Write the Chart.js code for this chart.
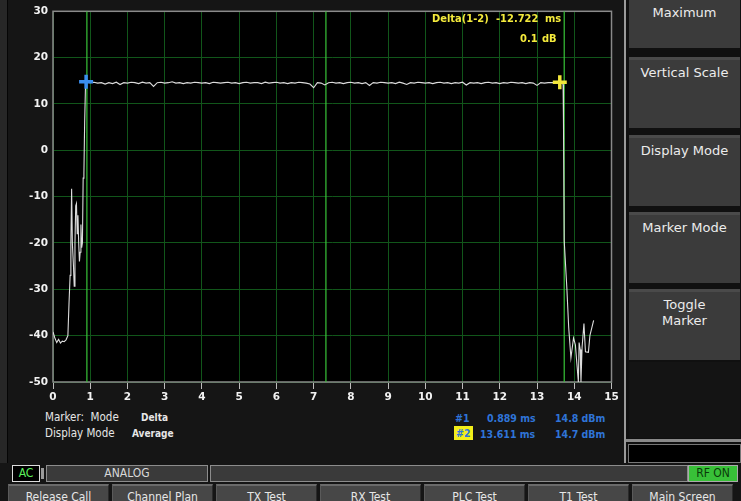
<!DOCTYPE html>
<html>
<head>
<meta charset="utf-8">
<script src="https://cdn.jsdelivr.net/npm/chart.js@4.4.1/dist/chart.umd.min.js"></script>
<style>
  html, body { margin: 0; padding: 0; background: #151515; width: 741px; height: 501px; overflow: hidden; }
  body { position: relative; font-family: 'DejaVu Sans', sans-serif; }
  .abs { position: absolute; white-space: nowrap; line-height: 1; }
  #leftStrip { left: 0; top: 0; width: 7px; height: 463px; background: #272727; border-right: 1px solid #050505; }
  #chartBox { left: 0; top: 0; width: 622px; height: 410px; }
  .cond { font-family: 'DejaVu Sans Condensed', 'DejaVu Sans', sans-serif; }
  .yel { color: #f4ea3c; font-weight: bold; font-size: 11px; }
  .lbl { color: #e6e6e6; font-size: 11.5px; }
  .lblb { color: #e6e6e6; font-size: 10px; font-weight: bold; }
  .blue { color: #2f74d8; font-weight: bold; font-size: 10.5px; }
  #panel { left: 624px; top: 0; width: 117px; height: 463px; background: #101010; border-left: 2px solid #9a9a9a; }
  .sbtn { position: absolute; left: 3px; width: 111px; background: #3b3b3b; border-top: 3px solid #4a4a4a;
          color: #ececec; font-size: 13px; text-align: center; box-sizing: border-box; }
  #emptyBox { position: absolute; left: 3px; top: 362px; width: 111px; height: 76px; background: #141414; }
  #panelLine { position: absolute; left: 0; top: 439px; width: 117px; height: 3px; background: #8a8a8a; }
  #blackBox { position: absolute; left: 2px; top: 444px; width: 113px; height: 19px; background: #000; border: 1px solid #777; box-sizing: border-box; }
  .sbox { position: absolute; top: 465px; height: 17px; background: #3a3a3a; border: 1px solid #8c8c8c; box-sizing: border-box;
          color: #d8d8d8; font-size: 12px; text-align: center; line-height: 15px; }
  .bbtn { position: absolute; top: 484px; width: 101px; height: 20px; background: #474747; border-top: 2px solid #6a6a6a;
          border-left: 1px solid #5a5a5a; border-right: 1px solid #2a2a2a; box-sizing: border-box;
          color: #e6e6e6; font-size: 12px; text-align: center; padding-top: 4px; }
</style>
</head>
<body>
<div id="leftStrip" class="abs"></div>
<div id="chartBox" class="abs"><canvas id="trace" width="622" height="410"></canvas></div>

<!-- delta readout -->
<span class="abs cond yel" style="left:432px; top:13px;">Delta(1-2)</span>
<span class="abs cond yel" style="left:496px; top:13px;">-12.722</span>
<span class="abs cond yel" style="left:545px; top:13px;">ms</span>
<span class="abs cond yel" style="left:520px; top:33px;">0.1</span>
<span class="abs cond yel" style="left:542px; top:33px;">dB</span>

<!-- marker info -->
<span class="abs cond lbl" style="left:45px; top:412px;">Marker:&nbsp; Mode</span>
<span class="abs cond lblb" style="left:141px; top:413px;">Delta</span>
<span class="abs cond lbl" style="left:45px; top:428px;">Display Mode</span>
<span class="abs cond lblb" style="left:132px; top:429px;">Average</span>

<span class="abs cond blue" style="left:455px; top:413px;">#1</span>
<span class="abs cond blue" style="left:487px; top:413px;">0.889 ms</span>
<span class="abs cond blue" style="left:555px; top:413px;">14.8 dBm</span>
<span class="abs cond blue" style="left:454px; top:426px; background:#f2ee1a; padding:2px 2px 1px 2px;">#2</span>
<span class="abs cond blue" style="left:480px; top:429px;">13.611 ms</span>
<span class="abs cond blue" style="left:555px; top:429px;">14.7 dBm</span>

<!-- right soft keys -->
<div id="panel" class="abs">
  <div class="sbtn" style="top:-3px; height:51px; padding-top:6px;">Maximum</div>
  <div class="sbtn" style="top:57px; height:71px; padding-top:6px;">Vertical Scale</div>
  <div class="sbtn" style="top:135px; height:71px; padding-top:6px;">Display Mode</div>
  <div class="sbtn" style="top:212px; height:71px; padding-top:6px;">Marker Mode</div>
  <div class="sbtn" style="top:289px; height:71px; padding-top:5px; line-height:16px;">Toggle<br>Marker</div>
  <div id="emptyBox"></div>
  <div id="panelLine"></div>
  <div id="blackBox"></div>
</div>

<!-- status bar -->
<div class="sbox cond" style="left:12px; width:28px; background:#000; border-color:#dcdcdc; color:#5cf05c;">AC</div>
<div class="abs" style="left:41px; top:468px; width:3px; height:11px; background:#9a9a9a;"></div>
<div class="sbox cond" style="left:46px; width:162px;">ANALOG</div>
<div class="sbox" style="left:210px; width:478px;"></div>
<div class="sbox cond" style="left:688px; width:50px; background:#38c038; color:#0a3a0a; border-color:#aaa;">RF ON</div>

<!-- bottom keys -->
<div class="bbtn cond" style="left:8px;">Release Call</div>
<div class="bbtn cond" style="left:112px;">Channel Plan</div>
<div class="bbtn cond" style="left:216px;">TX Test</div>
<div class="bbtn cond" style="left:320px;">RX Test</div>
<div class="bbtn cond" style="left:424px;">PLC Test</div>
<div class="bbtn cond" style="left:528px;">T1 Test</div>
<div class="bbtn cond" style="left:632px;">Main Screen</div>

<script>
// axis ticks
const xTicks = [0, 1, 2, 3, 4, 5, 6, 7, 8, 9, 10, 11, 12, 13, 14, 15];
const yTicks = [30, 20, 10, 0, -10, -20, -30, -40, -50];

// trace: rising edge (ms, dBm)
const riseX = [0.00, 0.05, 0.10, 0.15, 0.20, 0.25, 0.30, 0.35, 0.40, 0.43, 0.46, 0.48, 0.50, 0.52, 0.55, 0.57,
               0.59, 0.61, 0.63, 0.65, 0.67, 0.69, 0.71, 0.73, 0.75, 0.77, 0.79, 0.81, 0.83, 0.85, 0.87];
const riseY = [-39.2, -40.5, -41.5, -40.8, -41.6, -41.2, -41.3, -40.9, -40.0, -33, -27, -20, -8.3, -20, -25, -29.3,
               -20, -12, -11.5, -18, -14, -20, -24, -22, -16, -21, -20, -6, -5, 6, 13];

// trace: flat top
const flatX = [0.9, 1.0, 1.1, 1.2, 1.3, 1.4, 1.5, 1.6, 1.7, 1.8, 1.9,
               2.0, 2.1, 2.2, 2.3, 2.4, 2.5, 2.6, 2.7, 2.8, 2.9,
               3.0, 3.1, 3.2, 3.3, 3.4, 3.5, 3.6, 3.7, 3.8, 3.9,
               4.0, 4.1, 4.2, 4.3, 4.4, 4.5, 4.6, 4.7, 4.8, 4.9,
               5.0, 5.1, 5.2, 5.3, 5.4, 5.5, 5.6, 5.7, 5.8, 5.9,
               6.0, 6.1, 6.2, 6.3, 6.4, 6.5, 6.6, 6.7, 6.8, 6.9,
               7.0, 7.1, 7.2, 7.3, 7.4, 7.5, 7.6, 7.7, 7.8, 7.9,
               8.0, 8.1, 8.2, 8.3, 8.4, 8.5, 8.6, 8.7, 8.8, 8.9,
               9.0, 9.1, 9.2, 9.3, 9.4, 9.5, 9.6, 9.7, 9.8, 9.9,
               10.0, 10.1, 10.2, 10.3, 10.4, 10.5, 10.6, 10.7, 10.8, 10.9,
               11.0, 11.1, 11.2, 11.3, 11.4, 11.5, 11.6, 11.7, 11.8, 11.9,
               12.0, 12.1, 12.2, 12.3, 12.4, 12.5, 12.6, 12.7, 12.8, 12.9,
               13.0, 13.1, 13.2, 13.3, 13.4, 13.5, 13.6];
const flatY = [14.7, 14.6, 14.7, 14.5, 14.6, 14.3, 14.6, 14.4, 14.7, 14.2, 14.6,
               14.5, 14.7, 14.6, 14.4, 14.7, 14.5, 14.6, 13.8, 14.6, 14.7,
               14.5, 14.6, 14.8, 14.5, 14.6, 14.4, 14.6, 14.5, 14.7, 14.6,
               14.5, 14.6, 14.4, 14.7, 14.6, 14.5, 14.6, 14.7, 14.5, 14.6,
               14.4, 14.6, 14.7, 14.5, 14.6, 14.6, 14.4, 14.7, 14.5, 14.6,
               14.7, 14.5, 14.6, 14.4, 14.6, 14.5, 14.7, 14.6, 14.5, 14.3,
               13.5, 14.6, 14.5, 14.1, 14.6, 14.7, 14.5, 14.6, 14.4, 14.6,
               14.7, 14.5, 14.6, 14.4, 14.6, 14.0, 14.6, 14.5, 14.7, 14.6,
               14.5, 14.6, 14.4, 14.7, 14.5, 14.2, 14.6, 14.5, 14.7, 14.6,
               14.5, 14.6, 14.4, 14.6, 14.7, 14.5, 14.6, 14.4, 14.6, 14.5,
               14.7, 14.1, 14.6, 14.5, 14.6, 14.4, 14.6, 14.7, 14.5, 14.6,
               14.4, 14.6, 14.5, 14.7, 14.6, 14.5, 14.6, 14.4, 14.6, 14.5,
               14.0, 14.6, 14.5, 14.6, 14.6, 14.6, 14.7];

// trace: falling edge
const fallX = [13.66, 13.70, 13.71, 13.73, 13.80, 13.85, 13.91, 13.98, 14.03, 14.11, 14.13, 14.16, 14.18,
               14.21, 14.26, 14.30, 14.38, 14.42, 14.52];
const fallY = [14.6, 14.2, 6.3, -19.5, -29.6, -38.2, -44.8, -40.5, -42, -50, -41.5, -43, -50,
               -42.5, -37.4, -43.5, -43.6, -40, -36.7];

// markers #1 / #2
const markerX = [0.889, 13.611];
const markerY = [14.8, 14.7];
const markerColors = ['#3a8ef0', '#f2e63a'];

// bright gate lines
const gateX = [0.91, 7.33, 13.73];

const yMin = -50, yMax = 30;

const pts = (xs, ys) => xs.map((x, i) => ({ x: x, y: ys[i] }));
const traceData = [].concat(pts(riseX, riseY), [{ x: markerX[0], y: markerY[0] }], pts(flatX, flatY),
                            [{ x: markerX[1], y: markerY[1] }], pts(fallX, fallY));

const gateSets = gateX.map(g => ({
    data: [{ x: g, y: yMin }, { x: g, y: yMax }],
    borderColor: '#38c438',
    borderWidth: 1.2,
    pointRadius: 0,
    order: 3
}));

// grey frame round the plot
const framePlugin = {
    id: 'frame',
    beforeDatasetsDraw(chart) {
        const a = chart.chartArea, c = chart.ctx;
        c.save();
        c.strokeStyle = '#8a8a8a';
        c.lineWidth = 1.5;
        c.strokeRect(a.left, a.top, a.right - a.left, a.bottom - a.top);
        c.restore();
    }
};

// plot background
const bgPlugin = {
    id: 'plotBg',
    beforeDraw(chart) {
        const a = chart.chartArea, c = chart.ctx;
        c.save();
        c.fillStyle = '#000';
        c.fillRect(a.left, a.top, a.right - a.left, a.bottom - a.top);
        c.restore();
    }
};

const tickFont = { family: "'DejaVu Sans', sans-serif", size: 10.5, weight: 'bold' };

new Chart(document.getElementById('trace'), {
    type: 'line',
    data: {
        datasets: gateSets.concat([
            {
                data: traceData,
                borderColor: '#dcdcdc',
                borderWidth: 1.1,
                pointRadius: 0,
                tension: 0,
                order: 2
            },
            {
                data: pts(markerX, markerY),
                showLine: false,
                pointStyle: 'cross',
                pointRadius: 7,
                pointBorderWidth: 3.5,
                pointBorderColor: markerColors,
                pointBackgroundColor: markerColors,
                order: 1
            }
        ])
    },
    options: {
        responsive: false,
        animation: false,
        layout: { padding: { top: 10, right: 8, left: 0, bottom: 0 } },
        plugins: { legend: { display: false }, tooltip: { enabled: false } },
        scales: {
            x: {
                type: 'linear',
                min: xTicks[0],
                max: xTicks[xTicks.length - 1],
                afterBuildTicks: s => { s.ticks = xTicks.map(v => ({ value: v })); },
                afterFit: s => { s.height = 28; },
                grid: { color: '#11561a', lineWidth: 1, tickColor: '#bdbdbd', tickLength: 7 },
                border: { display: false },
                ticks: { color: '#f2f2f2', font: tickFont, padding: 2, maxRotation: 0 }
            },
            y: {
                type: 'linear',
                min: yMin,
                max: yMax,
                afterBuildTicks: s => { s.ticks = yTicks.map(v => ({ value: v })); },
                afterFit: s => { s.width = 53; },
                grid: { color: '#11561a', lineWidth: 1, drawTicks: false },
                border: { display: false },
                ticks: { color: '#f2f2f2', font: tickFont, padding: 5 }
            }
        }
    },
    plugins: [bgPlugin, framePlugin]
});
</script>
</body>
</html>
